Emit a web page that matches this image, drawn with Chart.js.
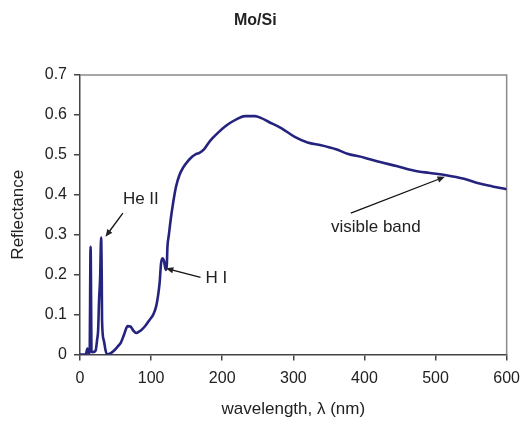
<!DOCTYPE html>
<html>
<head>
<meta charset="utf-8">
<script src="https://cdn.jsdelivr.net/npm/chart.js@4"></script>
<style>
    html, body { margin: 0; padding: 0; background: #fff; }
    #wrap { width: 528px; height: 422px; }
</style>
</head>
<body>
<div id="wrap"><canvas id="moSiChart" width="528" height="422"></canvas></div>
<script>
// --- DATA ---
const wavelength = [
    0, 8, 10.5, 12, 13.5, 14.9, 16.3, 18, 22, 24, 25.5, 26.9, 28.3, 29.7, 30.6, 31, 33.4, 36, 38,
    44, 48, 53, 57.5, 62, 67, 71, 75, 79, 86, 92, 97.5, 103, 107, 110, 112, 114, 116, 118, 120.7,
    122, 123, 125, 127.7, 131, 135, 140, 145, 152, 158, 163, 168, 174, 180, 186, 195, 204, 212,
    220, 232, 246, 255, 265, 283, 302, 320, 339, 360, 376, 400, 422, 445, 469, 490, 515, 540,
    562, 580, 600
];
const reflectance = [
    0, 0, 0.015, 0.003, 0.005, 0.27, 0.008, 0.006, 0.01, 0.036, 0.061, 0.14, 0.19, 0.293, 0.19,
    0.086, 0.036, 0.01, 0,
    0.004, 0.01, 0.02, 0.03, 0.05, 0.071, 0.07, 0.06, 0.054, 0.061, 0.072, 0.086, 0.1, 0.12, 0.15,
    0.18, 0.228, 0.241, 0.235, 0.212, 0.222, 0.27, 0.3, 0.34, 0.38, 0.42, 0.45, 0.468, 0.485,
    0.496, 0.502, 0.505, 0.513, 0.528, 0.541, 0.557, 0.571, 0.581, 0.589, 0.597, 0.597, 0.592,
    0.583, 0.567, 0.545, 0.531, 0.524, 0.514, 0.503, 0.493, 0.482, 0.472, 0.461, 0.455, 0.449,
    0.44, 0.428, 0.421, 0.414
];
const xTicks = [0, 100, 200, 300, 400, 500, 600];
const yTicks = [0, 0.1, 0.2, 0.3, 0.4, 0.5, 0.6, 0.7];

// annotation labels and arrows, in data units (nm, reflectance)
const noteLabels = ["He II", "H I", "visible band"];
const noteText = [[60.3, 0.389], [176.5, 0.19], [352.9, 0.319]];
const noteTail = [[60.3, 0.354], [169.5, 0.193], [380.8, 0.354]];
const noteHead = [[35.8, 0.295], [120.8, 0.216], [513.1, 0.445]];

const FONT = "'Liberation Sans', Arial, sans-serif";
const TEXT = "#222";

// --- PLUGINS ---
const frame = {
    id: "frame",
    beforeDatasetsDraw(chart) {
        const { ctx, chartArea: a } = chart;
        ctx.save();
        ctx.strokeStyle = "#8a8a8a";
        ctx.lineWidth = 1.5;
        ctx.beginPath();
        ctx.moveTo(a.left, a.top);
        ctx.lineTo(a.right, a.top);
        ctx.lineTo(a.right, a.bottom);
        ctx.stroke();
        ctx.restore();
    }
};

const notes = {
    id: "notes",
    afterDatasetsDraw(chart) {
        const { ctx, scales: { x, y } } = chart;
        ctx.save();
        ctx.fillStyle = TEXT;
        ctx.strokeStyle = "#111";
        ctx.lineWidth = 1.3;
        ctx.font = "17px " + FONT;
        ctx.textBaseline = "middle";
        ctx.textAlign = "left";
        noteLabels.forEach((label, i) => {
            ctx.fillText(label, x.getPixelForValue(noteText[i][0]), y.getPixelForValue(noteText[i][1]));

            const x1 = x.getPixelForValue(noteTail[i][0]);
            const y1 = y.getPixelForValue(noteTail[i][1]);
            const x2 = x.getPixelForValue(noteHead[i][0]);
            const y2 = y.getPixelForValue(noteHead[i][1]);
            const ang = Math.atan2(y2 - y1, x2 - x1);
            const len = 8;

            ctx.beginPath();
            ctx.moveTo(x1, y1);
            ctx.lineTo(x2 - Math.cos(ang) * 4, y2 - Math.sin(ang) * 4);
            ctx.stroke();

            // arrow head
            ctx.beginPath();
            ctx.moveTo(x2, y2);
            ctx.lineTo(x2 - len * Math.cos(ang - 0.4), y2 - len * Math.sin(ang - 0.4));
            ctx.lineTo(x2 - len * Math.cos(ang + 0.4), y2 - len * Math.sin(ang + 0.4));
            ctx.closePath();
            ctx.fill();
        });
        ctx.restore();
    }
};

// --- CHART ---
new Chart(document.getElementById("moSiChart"), {
    type: "line",
    data: {
        datasets: [{
            label: "Mo/Si",
            data: wavelength.map((w, i) => ({ x: w, y: reflectance[i] })),
            borderColor: "#25237e",
            borderWidth: 2.6,
            pointRadius: 0,
            cubicInterpolationMode: "monotone",
            fill: false
        }]
    },
    options: {
        responsive: false,
        animation: false,
        layout: { padding: { left: 0, right: 17.3, top: 0, bottom: 0 } },
        plugins: {
            legend: { display: false },
            tooltip: { enabled: false },
            title: {
                display: true,
                text: "Mo/Si",
                color: TEXT,
                font: { family: FONT, size: 16, weight: "bold" },
                padding: { top: 11.4, bottom: 44.4 }
            }
        },
        scales: {
            x: {
                type: "linear",
                min: 0,
                max: 600,
                afterFit: s => { s.height = 67.5; },
                afterBuildTicks: s => { s.ticks = xTicks.map(v => ({ value: v })); },
                grid: { drawOnChartArea: false, tickLength: 6, color: "#444", lineWidth: 1.5 },
                border: { color: "#444", width: 1.5 },
                ticks: { color: TEXT, padding: 8, maxRotation: 0, font: { family: FONT, size: 16 } },
                title: {
                    display: true,
                    text: "wavelength, λ (nm)",
                    color: TEXT,
                    font: { family: FONT, size: 17 },
                    padding: { top: 0, bottom: 2 }
                }
            },
            y: {
                min: 0,
                max: 0.7,
                afterFit: s => { s.width = 80; },
                afterBuildTicks: s => { s.ticks = yTicks.map(v => ({ value: v })); },
                grid: { drawOnChartArea: false, tickLength: 6, color: "#444", lineWidth: 1.5 },
                border: { color: "#444", width: 1.5 },
                ticks: { color: TEXT, padding: 7, font: { family: FONT, size: 16 } },
                title: {
                    display: true,
                    text: "Reflectance",
                    color: TEXT,
                    font: { family: FONT, size: 17 },
                    padding: { top: 8, bottom: 0 }
                }
            }
        }
    },
    plugins: [frame, notes]
});
</script>
</body>
</html>
